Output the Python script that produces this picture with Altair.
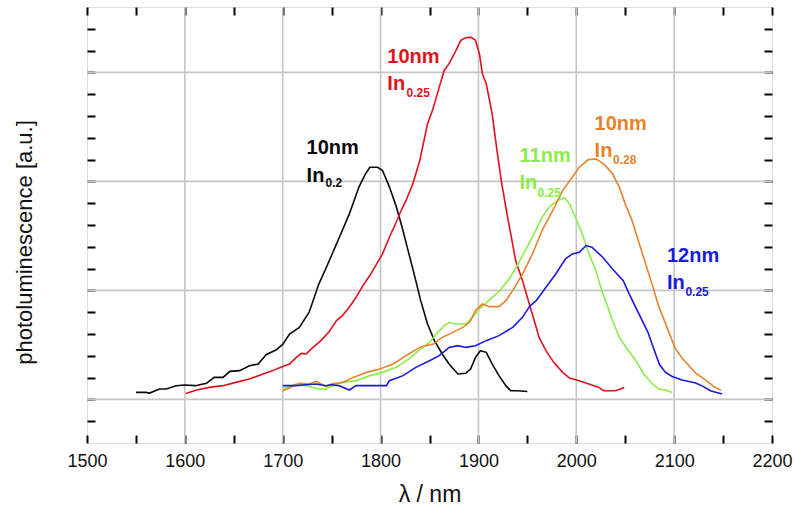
import altair as alt
import pandas as pd

# ---------------- data ----------------
series_names = ["10nm In0.2", "10nm In0.25", "11nm In0.25", "10nm In0.28", "12nm In0.25"]
series_colors = ["#0a0a0a", "#e0121c", "#8cec48", "#e6822e", "#1a1ade"]

blk_lam = [1550,1560,1564,1574,1581,1591,1600,1611,1622,1630,1639,1646,1656,1666,1675,1683,1693,1700,1707,1717,
           1727,1732,1737,1746,1758,1768,1778,1784,1789,1797,1802,1809,1816,1822,1829,1836,1841,1848,1855,1863,
           1870,1879,1887,1892,1897,1902,1908,1914,1921,1928,1933,1940,1950]
blk_pl = [0.064,0.064,0.058,0.095,0.095,0.126,0.132,0.126,0.147,0.202,0.202,0.257,0.264,0.309,0.325,0.410,0.453,0.505,0.600,0.661,
          0.800,0.930,1.060,1.240,1.490,1.700,1.950,2.060,2.130,2.130,2.100,1.950,1.770,1.580,1.335,1.090,0.906,0.692,0.539,0.417,
          0.325,0.233,0.239,0.279,0.386,0.447,0.432,0.325,0.218,0.126,0.080,0.080,0.073]

red_lam = [1601,1612,1625,1639,1652,1666,1680,1690,1698,1707,1714,1719,1724,1731,1739,1747,1755,1761,1768,1775,
           1782,1789,1795,1802,1809,1816,1821,1826,1833,1840,1848,1853,1860,1865,1870,1877,1882,1887,1892,1897,
           1901,1904,1908,1914,1919,1924,1930,1933,1938,1945,1952,1957,1962,1969,1977,1986,1993,2003,2013,2023,
           2028,2040,2045,2049]
red_pl = [0.055,0.086,0.110,0.126,0.156,0.187,0.233,0.264,0.294,0.325,0.386,0.422,0.417,0.477,0.539,0.615,0.723,0.769,0.845,0.937,
          1.044,1.136,1.228,1.335,1.488,1.625,1.733,1.825,1.978,2.190,2.529,2.651,2.865,3.018,3.080,3.200,3.294,3.318,3.324,3.294,
          3.172,2.988,2.896,2.621,2.280,1.970,1.660,1.520,1.274,1.090,0.876,0.723,0.569,0.447,0.340,0.248,0.196,0.172,0.141,0.110,
          0.080,0.080,0.095,0.110]

grn_lam = [1700,1707,1714,1724,1731,1737,1744,1751,1761,1775,1789,1802,1816,1829,1841,1850,1857,1865,1870,1877,
           1887,1894,1901,1911,1921,1931,1938,1948,1957,1965,1972,1981,1988,1993,1999,2006,2013,2020,2026,2031,
           2037,2044,2052,2061,2069,2078,2084,2091,2098]
grn_pl = [0.095,0.120,0.141,0.126,0.110,0.095,0.095,0.126,0.156,0.172,0.218,0.248,0.294,0.371,0.463,0.523,0.600,0.677,0.707,0.692,
          0.692,0.753,0.830,0.910,0.990,1.100,1.200,1.370,1.520,1.670,1.763,1.825,1.849,1.794,1.671,1.519,1.335,1.182,1.000,0.880,
          0.723,0.569,0.463,0.355,0.233,0.141,0.095,0.086,0.064]

orn_lam = [1700,1708,1717,1726,1734,1744,1750,1761,1772,1786,1799,1813,1826,1840,1846,1854,1863,1874,1884,1891,
           1897,1904,1911,1921,1928,1935,1945,1955,1965,1976,1986,1996,2003,2012,2020,2028,2037,2044,2050,2057,
           2064,2071,2078,2084,2094,2101,2108,2114,2122,2132,2141,2148]
orn_pl = [0.080,0.110,0.147,0.140,0.165,0.120,0.140,0.156,0.202,0.248,0.279,0.325,0.401,0.477,0.493,0.508,0.569,0.615,0.661,0.707,
          0.815,0.876,0.851,0.851,0.906,0.998,1.150,1.330,1.549,1.733,1.916,2.040,2.130,2.198,2.207,2.161,2.070,1.947,1.794,1.641,
          1.440,1.240,1.040,0.860,0.631,0.470,0.380,0.320,0.240,0.180,0.115,0.083]

blu_lam = [1700,1714,1724,1734,1744,1750,1758,1768,1775,1789,1806,1809,1823,1836,1850,1860,1870,1879,1887,1897,
           1908,1921,1935,1945,1952,1959,1969,1979,1989,1996,2003,2010,2016,2027,2037,2048,2054,2064,2073,2079,
           2085,2091,2098,2108,2122,2130,2137,2149]
blu_pl = [0.126,0.126,0.135,0.141,0.126,0.135,0.126,0.086,0.126,0.126,0.126,0.172,0.218,0.294,0.355,0.401,0.477,0.493,0.477,0.493,
          0.539,0.585,0.661,0.753,0.850,0.906,1.028,1.151,1.289,1.335,1.350,1.411,1.396,1.304,1.197,1.090,0.968,0.784,0.620,0.470,
          0.320,0.250,0.210,0.178,0.150,0.117,0.080,0.050]

# annotation labels
ann_series = [series_names[0], series_names[0], series_names[1], series_names[1], series_names[2],
              series_names[2], series_names[3], series_names[3], series_names[4], series_names[4]]
ann_text = ["10nm", "In", "10nm", "In", "11nm", "In", "10nm", "In", "12nm", "In"]
ann_lam = [1724.4, 1724.4, 1806.9, 1806.9, 1942.0, 1942.0, 2018.7, 2018.7, 2092.7, 2092.7]
ann_pl = [2.247, 1.999, 3.085, 2.835, 2.176, 1.932, 2.467, 2.222, 1.258, 1.014]

sub_series = series_names
sub_text = ["0.2", "0.25", "0.25", "0.28", "0.25"]
sub_lam = [1743.7, 1826.5, 1960.4, 2037.5, 2111.5]
sub_pl = [1.947, 2.773, 1.855, 2.162, 0.952]

x_tick_values = list(range(1500, 2201, 50))
y_tick_values = [round(-0.2 + 0.2 * i, 1) for i in range(19)]
grid_x = [1600, 1700, 1800, 1900, 2000, 2100]
grid_y = [0, 1, 2, 3]

# ---------------- tables ----------------
rows = []
for name, lams, pls in zip(series_names,
                           [blk_lam, red_lam, grn_lam, orn_lam, blu_lam],
                           [blk_pl, red_pl, grn_pl, orn_pl, blu_pl]):
    for l, p in zip(lams, pls):
        rows.append({"series": name, "lam": l, "pl": p})
df = pd.DataFrame(rows)
ann_df = pd.DataFrame({"series": ann_series, "text": ann_text, "lam": ann_lam, "pl": ann_pl})
sub_df = pd.DataFrame({"series": sub_series, "text": sub_text, "lam": sub_lam, "pl": sub_pl})

W, H = 685, 436
FONT = "Liberation Sans"

xscale = alt.Scale(domain=[1500, 2200], nice=False, zero=False)
yscale = alt.Scale(domain=[-0.4, 3.6], nice=False, zero=False)
cscale = alt.Scale(domain=series_names, range=series_colors)


def ax(**kw):
    # inward ticks: axis shifted into the plot by its own tick length
    d = dict(domain=False, grid=False, tickSize=8, tickWidth=2, tickColor="black", offset=-8)
    d.update(kw)
    return alt.Axis(**d)


vgrid = alt.Chart(pd.DataFrame({"lam": grid_x})).mark_rule(color="#c6c6c6", strokeWidth=1.6).encode(
    x=alt.X("lam:Q", scale=xscale,
            axis=ax(orient="top", values=x_tick_values, labels=False, title=None))
)

hgrid = alt.Chart(pd.DataFrame({"pl": grid_y})).mark_rule(color="#c6c6c6", strokeWidth=1.6).encode(
    y=alt.Y("pl:Q", scale=yscale,
            axis=ax(orient="right", values=y_tick_values, labels=False, title=None))
)

lines = alt.Chart(df).mark_line(strokeWidth=1.6).encode(
    x=alt.X("lam:Q", scale=xscale,
            axis=ax(orient="bottom", values=x_tick_values, format="d",
                    labelExpr="datum.value % 100 == 0 ? datum.label : ''",
                    labelFlush=False, labelOverlap=False,
                    labelFontSize=18, labelColor="#111111", labelPadding=9, labelFont=FONT,
                    title="λ / nm", titleFontSize=23, titleFontWeight="normal", titleFont=FONT,
                    titleColor="#111111", titleBaseline="alphabetic", titleY=66)),
    y=alt.Y("pl:Q", scale=yscale,
            axis=ax(orient="left", values=y_tick_values, labels=False,
                    title="photoluminescence [a.u.]", titleFontSize=22, titleFontWeight="normal",
                    titleFont=FONT, titleColor="#111111", titleBaseline="alphabetic",
                    titleX=-64, titleY=235)),
    color=alt.Color("series:N", scale=cscale, legend=None),
)

labels = alt.Chart(ann_df).mark_text(align="left", baseline="alphabetic", fontSize=20,
                                     fontWeight="bold", font=FONT).encode(
    x=alt.X("lam:Q", scale=xscale, axis=None),
    y=alt.Y("pl:Q", scale=yscale, axis=None),
    text="text:N",
    color=alt.Color("series:N", scale=cscale, legend=None),
)

subs = alt.Chart(sub_df).mark_text(align="left", baseline="alphabetic", fontSize=12,
                                   fontWeight="bold", font=FONT).encode(
    x=alt.X("lam:Q", scale=xscale, axis=None),
    y=alt.Y("pl:Q", scale=yscale, axis=None),
    text="text:N",
    color=alt.Color("series:N", scale=cscale, legend=None),
)

chart = alt.layer(vgrid, hgrid, lines, labels, subs).resolve_axis(
    x="independent", y="independent"
).properties(
    width=W, height=H,
    autosize=alt.AutoSizeParams(type="none"),
    padding={"left": 87, "top": 7, "right": 22, "bottom": 64},
    background="white",
).configure_view(
    stroke="black", strokeWidth=2
).configure(font=FONT)

chart.save("out.html", embed_options={"renderer": "svg", "actions": False})
